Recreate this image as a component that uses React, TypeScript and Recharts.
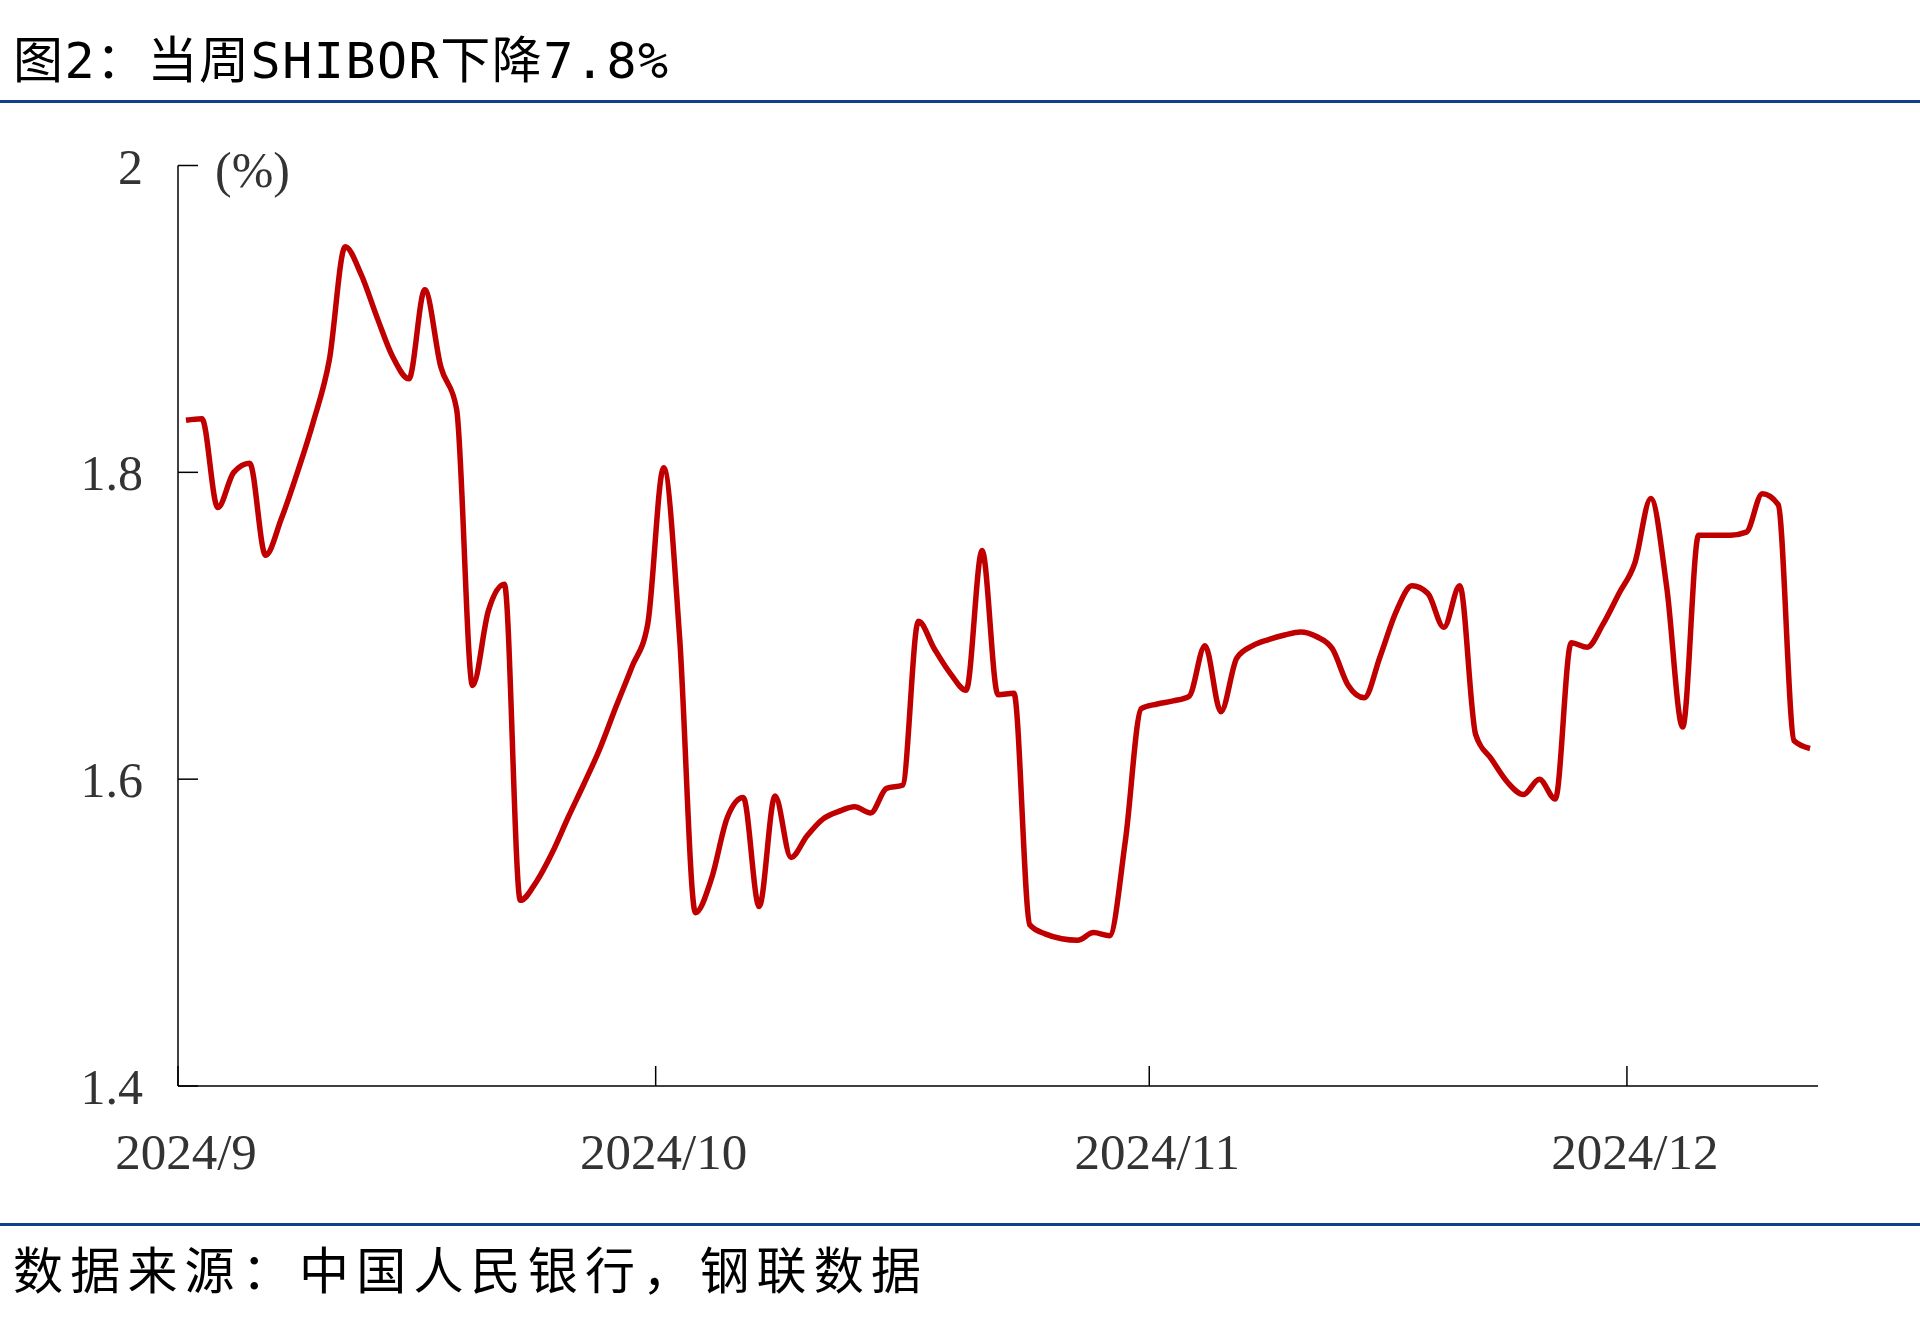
import { Line, LineChart, XAxis, YAxis } from "recharts"

// SHIBOR daily values, one list per month
const sepValues = [
  1.834, 1.835, 1.777, 1.8, 1.806, 1.746, 1.77, 1.8, 1.833, 1.873,
  1.947, 1.929, 1.901, 1.875, 1.861, 1.919, 1.869, 1.841, 1.661, 1.71,
  1.727, 1.521, 1.533, 1.552, 1.575, 1.597, 1.62, 1.647, 1.673, 1.701,
]
const octValues = [
  1.803, 1.693, 1.513, 1.535, 1.575, 1.588, 1.517, 1.589, 1.549, 1.563,
  1.574, 1.579, 1.582, 1.578, 1.594, 1.596, 1.703, 1.685, 1.669, 1.658,
  1.749, 1.655, 1.656, 1.505, 1.499, 1.496, 1.495, 1.5, 1.498, 1.56,
  1.646,
]
const novValues = [
  1.649, 1.651, 1.654, 1.687, 1.644, 1.679, 1.687, 1.691, 1.694, 1.696,
  1.693, 1.685, 1.661, 1.653, 1.68, 1.709, 1.726, 1.721, 1.699, 1.726,
  1.629, 1.613, 1.598, 1.59, 1.6, 1.587, 1.689, 1.686, 1.701, 1.721,
]
const decValues = [1.741, 1.783, 1.725, 1.634, 1.759, 1.759, 1.759, 1.761, 1.786, 1.779, 1.625, 1.62]

// first day of each month, counted from 2024-09-01
const monthStarts = [0, 30, 61, 91]
const monthLabels = ["2024/9", "2024/10", "2024/11", "2024/12"]
const yTicks = [1.4, 1.6, 1.8, 2]
const lastDay = 103

const data = [sepValues, octValues, novValues, decValues].flatMap((vals, m) =>
  vals.map((v, i) => ({ pos: monthStarts[m] + i + 0.5, rate: v }))
)

const serif = '"Liberation Serif", "Times New Roman", serif'

function XTick(props: any) {
  const { x, y, payload } = props
  const idx = monthStarts.indexOf(payload.value)
  return (
    <g>
      <line x1={x} x2={x} y1={y} y2={y - 20} stroke="#000" strokeWidth={1.5} />
      <text x={x + 8} y={y + 83} textAnchor="middle" fontSize={51} fontFamily={serif} fill="#333">
        {monthLabels[idx]}
      </text>
    </g>
  )
}

function YTick(props: any) {
  const { x, y, payload } = props
  return (
    <g>
      <line x1={x} x2={x + 20} y1={y} y2={y} stroke="#000" strokeWidth={1.5} />
      <text x={x - 35} y={y + 18} textAnchor="end" fontSize={50} fontFamily={serif} fill="#333">
        {payload.value === 2 ? "2" : payload.value.toFixed(1)}
      </text>
    </g>
  )
}

export default function App() {
  return (
    <div style={{ position: "absolute", left: 0, top: 0, width: 1920, height: 1331, background: "#fff" }}>
      <LineChart
        width={1920}
        height={1331}
        data={data}
        margin={{ top: 165.5, right: 102, bottom: 0, left: 0 }}
      >
        <XAxis
          dataKey="pos"
          type="number"
          domain={[0, lastDay]}
          ticks={monthStarts}
          interval={0}
          height={245}
          tickSize={0}
          tickMargin={0}
          tickLine={false}
          axisLine={{ stroke: "#000", strokeWidth: 1.5 }}
          tick={<XTick />}
        />
        <YAxis
          type="number"
          domain={[1.4, 2]}
          ticks={yTicks}
          interval={0}
          width={178}
          tickSize={0}
          tickMargin={0}
          tickLine={false}
          axisLine={{ stroke: "#000", strokeWidth: 1.5 }}
          tick={<YTick />}
        />
        <Line
          type="monotone"
          dataKey="rate"
          stroke="#C00000"
          strokeWidth={5.5}
          dot={false}
          isAnimationActive={false}
        />
      </LineChart>
      <svg
        width={1920}
        height={1331}
        style={{ position: "absolute", left: 0, top: 0, pointerEvents: "none" }}
      >
        <text
          x={13}
          y={78}
          fontSize={50}
          letterSpacing={1.5}
          fontFamily='"DejaVu Sans Mono", "Noto Sans CJK SC", monospace'
          fill="#000"
        >
          图2：当周SHIBOR下降7.8%
        </text>
        <line x1={0} x2={1920} y1={101.5} y2={101.5} stroke="#123f8c" strokeWidth={3} />
        <text x={215} y={187} fontSize={50} fontFamily={serif} fill="#333">
          (%)
        </text>
        <line x1={0} x2={1920} y1={1224.5} y2={1224.5} stroke="#123f8c" strokeWidth={3} />
        <text x={13} y={1289} fontSize={50} letterSpacing={7.2} fontFamily='"Noto Sans CJK SC", sans-serif' fill="#000">
          数据来源：中国人民银行，钢联数据
        </text>
      </svg>
    </div>
  )
}
